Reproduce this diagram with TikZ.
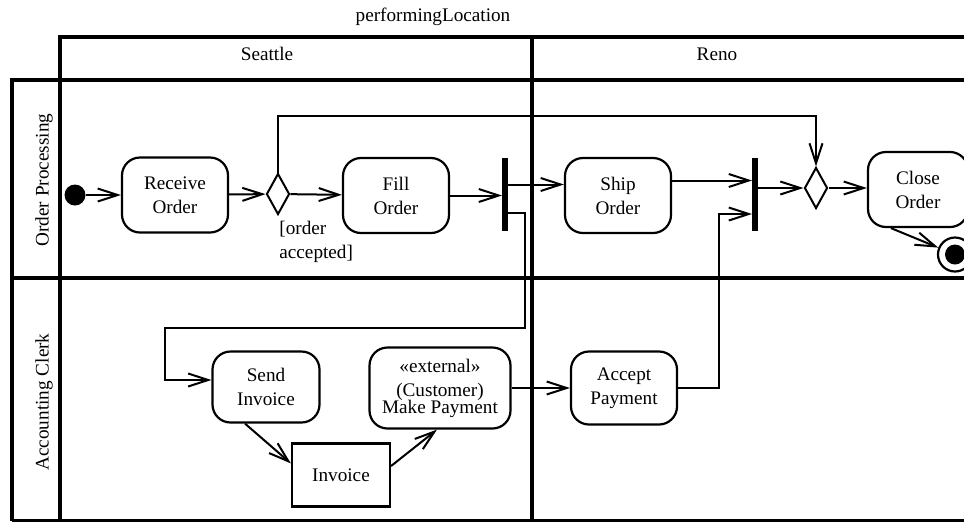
\documentclass[tikz,border=0pt]{standalone}
\usepackage{fontspec}
\setmainfont{Liberation Serif}
\usetikzlibrary{shapes.geometric,arrows.meta}
\tikzset{
  act/.style    = {rectangle, rounded corners=9pt, draw, line width=1.1pt, minimum width=53pt, minimum height=37.5pt, align=center, inner sep=1pt, font=\fontsize{9.6pt}{12pt}\selectfont},
  obj/.style    = {rectangle, draw, line width=1.1pt, minimum width=49pt, minimum height=31.5pt, font=\fontsize{9.6pt}{12pt}\selectfont},
  bar/.style    = {rectangle, fill=black, minimum width=2.6pt, minimum height=36.5pt, inner sep=0},
  choice/.style = {diamond, draw, line width=1pt, minimum width=11.5pt, minimum height=20.5pt, inner sep=0},
  ini/.style    = {circle, fill=black, minimum size=10.5pt, inner sep=0},
  fin/.style    = {circle, draw, line width=1.1pt, fill=white, minimum size=17pt, inner sep=0,
                   path picture={\fill[black] (path picture bounding box.center) circle (5pt);}},
  flow/.style   = {line width=1pt, -{Straight Barb[length=10pt,width=6.5pt,line width=1pt]}},
  lane/.style   = {line width=2.2pt},
  et/.style     = {font=\fontsize{9.6pt}{12pt}\selectfont}
}

\begin{document}
\begin{tikzpicture}[x=0.5pt, y=-0.5pt]

  \useasboundingbox (0,0) rectangle (964,521);

  % corsie
  \draw[lane] (60,521) -- (60,37) -- (975,37);
  \draw[lane] (12,521) -- (12,80) -- (975,80);
  \draw[lane] (12,278) -- (975,278);
  \draw[lane] (532,37) -- (532,521);
  \draw[lane] (12,521) -- (975,521);

  % intestazioni
  \node[et] (perf) at (433,17) {performingLocation};
  \node[et] (sea)  at (267,54) {Seattle};
  \node[et] (ren)  at (717,54) {Reno};
  \node[et, rotate=90] (op) at (44,180) {Order Processing};
  \node[et, rotate=90] (ac) at (44,402) {Accounting Clerk};

  % Order Processing
  \node[ini]    (start)  at (75,195)  {};
  \node[act]    (recv)   at (175,195) {Receive\\Order};
  \node[choice] (dec1)   at (278,194) {};
  \node[act]    (fill)   at (396,195.5) {Fill\\Order};
  \node[bar]    (fork)   at (505,194.5) {};
  \node[act]    (ship)   at (618,195.5) {Ship\\Order};
  \node[bar]    (join)   at (755,194.5) {};
  \node[choice] (dec2)   at (816,188) {};
  \node[act, minimum width=50pt] (close) at (918,189.5) {Close\\Order};
  \node[fin]    (stop)   at (955,254.5) {};
  \node[et, align=left, anchor=north west, inner sep=0] (guard) at (279,221) {[order\\accepted]};

  % Accounting Clerk
  \node[act, minimum width=53.5pt, minimum height=35.5pt] (send) at (266,387) {Send\\Invoice};
  \node[obj]    (inv)    at (341,475) {Invoice};
  \node[act, minimum width=70.5pt, minimum height=40.5pt] (pay) at (440,388) {«external»\\(Customer)\\[-3.5pt]Make Payment};
  \node[act, minimum height=36.5pt] (accept) at (624,388) {Accept\\Payment};

  \coordinate (c1) at (525,328);
  \coordinate (c2) at (165,380);
  \coordinate (c3) at (816,116);
  \coordinate (c4) at (719,214);

  % flussi
  \draw[flow] (start) -- (recv);
  \draw[flow] (recv) -- (dec1);
  \draw[flow] (dec1) -- (fill);
  \draw[flow] (fill.east) -- (fill.east -| fork.west);
  \draw[flow] ([yshift=5pt]fork.east) -- ([yshift=5pt]fork.east -| ship.west);
  \draw[flow] ([yshift=-9pt]fork.east) -| (c1) -| (c2) -- (c2 -| send.west);
  \draw[flow] ([yshift=7.5pt]ship.east) -- ([yshift=7.5pt]ship.east -| join.west);
  \draw[flow] (accept.east) -| (c4) -- (c4 -| join.west);
  \draw[flow] (join.east |- dec2) -- (dec2);
  \draw[flow] (dec1.north) |- (c3) -- (dec2.north);
  \draw[flow] (dec2) -- (dec2 -| close.west);
  \draw[flow] ([xshift=12pt]close.south west) -- (stop);
  \draw[flow] ([xshift=-10.5pt]send.south) -- ([yshift=-10.5pt]inv.north west);
  \draw[flow] ([yshift=4.5pt]inv.east) -- ([xshift=-1.5pt]pay.south);
  \draw[flow] (pay) -- (accept);

\end{tikzpicture}
\end{document}
